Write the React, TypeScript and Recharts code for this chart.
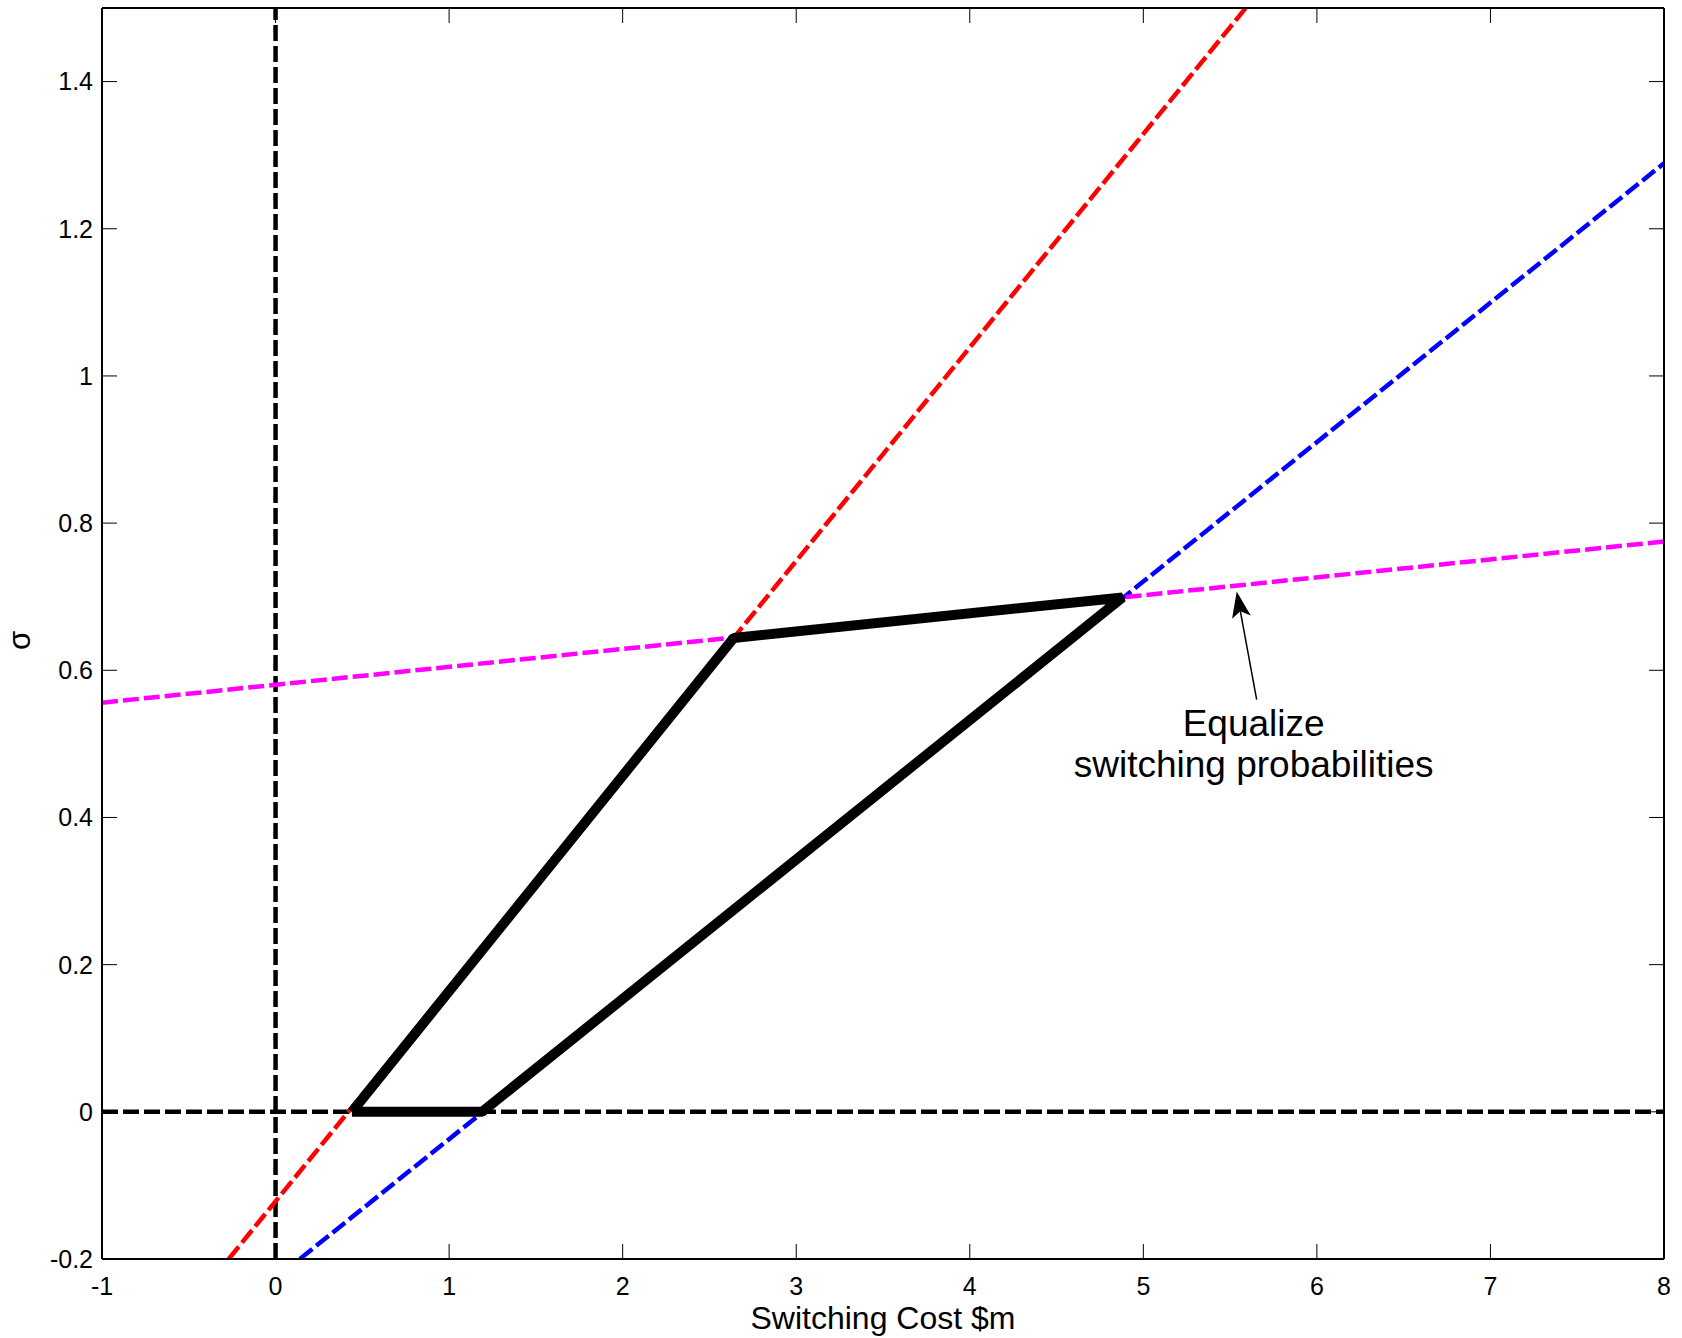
import React from 'react';
import {
  ComposedChart,
  Line,
  XAxis,
  YAxis,
  ReferenceLine,
  Label,
} from 'recharts';

const FONT = '"Liberation Sans", Arial, Helvetica, sans-serif';

// axis ticks
const xTicks = [-1, 0, 1, 2, 3, 4, 5, 6, 7, 8];
const yTicks = [-0.2, 0, 0.2, 0.4, 0.6, 0.8, 1, 1.2, 1.4];

// dashed reference axes through the origin
const zeroVertical = [
  { x: 0, y: -0.2 },
  { x: 0, y: 1.5 },
];
const zeroHorizontal = [
  { x: -1, y: 0 },
  { x: 8, y: 0 },
];

// boundary lines
const redLine = [
  { x: -0.27, y: -0.2 },
  { x: 5.59, y: 1.5 },
];
const blueLine = [
  { x: 0.14, y: -0.2 },
  { x: 8, y: 1.289 },
];
const magentaLine = [
  { x: -1, y: 0.556 },
  { x: 8, y: 0.775 },
];

// feasible region outline
const region = [
  { x: 0.44, y: 0 },
  { x: 2.64, y: 0.644 },
  { x: 4.88, y: 0.699 },
  { x: 1.19, y: 0 },
  { x: 0.44, y: 0 },
];

// annotation arrow: tail then tip
const arrowTail = { x: 5.653, y: 0.56 };
const arrowTip = { x: 5.538, y: 0.707 };
const noteLines = ['Equalize', 'switching probabilities'];

const ArrowNote = (props: any) => {
  const { x1, y1, x2, y2 } = props;
  const ang = Math.atan2(y2 - y1, x2 - x1);
  const ux = Math.cos(ang);
  const uy = Math.sin(ang);
  const nx = -uy;
  const ny = ux;
  const L = 26;
  const W = 9.5;
  const notch = 6;
  const bx = x2 - L * ux;
  const by = y2 - L * uy;
  const kx = x2 - (L - notch) * ux;
  const ky = y2 - (L - notch) * uy;
  const head = `${x2},${y2} ${bx + W * nx},${by + W * ny} ${kx},${ky} ${bx - W * nx},${by - W * ny}`;
  return (
    <g>
      <line x1={x1} y1={y1} x2={kx} y2={ky} stroke="#000" strokeWidth={1.5} />
      <polygon points={head} fill="#000" />
      {noteLines.map((t, i) => (
        <text
          key={t}
          x={x1 - 3}
          y={y1 + 36 + i * 41}
          textAnchor="middle"
          fontSize={37}
          fontFamily={FONT}
          fill="#000"
        >
          {t}
        </text>
      ))}
    </g>
  );
};

const dashed = '16 5';
const axisStroke = { stroke: '#000', strokeWidth: 2 };
const tickStroke = { stroke: '#000', strokeWidth: 1 };
const tickFont = { fontSize: 25, fill: '#000', fontFamily: FONT };

export default function App() {
  return (
    <div style={{ position: 'absolute', left: 0, top: 0, width: 1682, height: 1338, background: '#fff' }}>
      <ComposedChart width={1682} height={1338} margin={{ top: 7, right: 17, bottom: 0, left: 0 }}>
        <XAxis
          dataKey="x"
          type="number"
          domain={[-1, 8]}
          ticks={xTicks}
          interval={0}
          allowDataOverflow
          height={79}
          tickSize={-15}
          tickMargin={33}
          axisLine={axisStroke}
          tickLine={tickStroke}
          tick={tickFont}
        >
          <Label
            value="Switching Cost $m"
            position="insideBottom"
            offset={9}
            style={{ fontSize: 32, fill: '#000', fontFamily: FONT }}
          />
        </XAxis>
        <XAxis
          xAxisId="top"
          orientation="top"
          dataKey="x"
          type="number"
          domain={[-1, 8]}
          ticks={xTicks}
          interval={0}
          allowDataOverflow
          height={1}
          tickSize={-15}
          tickFormatter={() => ''}
          axisLine={axisStroke}
          tickLine={tickStroke}
        />
        <YAxis
          dataKey="y"
          type="number"
          domain={[-0.2, 1.5]}
          ticks={yTicks}
          interval={0}
          allowDataOverflow
          width={102}
          tickSize={-15}
          tickMargin={24}
          axisLine={axisStroke}
          tickLine={tickStroke}
          tick={tickFont}
        >
          <Label
            content={({ viewBox }: any) => {
              const cx = viewBox.x + 30;
              const cy = viewBox.y + viewBox.height / 2 + 7;
              return (
                <text
                  x={cx}
                  y={cy}
                  transform={`rotate(-90, ${cx}, ${cy})`}
                  textAnchor="middle"
                  fontSize={31}
                  fontFamily={FONT}
                  fill="#000"
                >
                  σ
                </text>
              );
            }}
          />
        </YAxis>
        <YAxis
          yAxisId="right"
          orientation="right"
          dataKey="y"
          type="number"
          domain={[-0.2, 1.5]}
          ticks={yTicks}
          interval={0}
          allowDataOverflow
          width={1}
          tickSize={-15}
          tickFormatter={() => ''}
          axisLine={axisStroke}
          tickLine={tickStroke}
        />

        {/* the vertical zero line is bound to the top/right axes (same domains) so those frame axes render */}
        <Line data={zeroVertical} xAxisId="top" yAxisId="right" dataKey="y" type="linear" stroke="#000" strokeWidth={4.5} strokeDasharray={dashed} dot={false} activeDot={false} isAnimationActive={false} />
        <Line data={zeroHorizontal} dataKey="y" type="linear" stroke="#000" strokeWidth={4.5} strokeDasharray={dashed} dot={false} activeDot={false} isAnimationActive={false} />
        <Line data={redLine} dataKey="y" type="linear" stroke="#ff0000" strokeWidth={4.5} strokeDasharray={dashed} dot={false} activeDot={false} isAnimationActive={false} />
        <Line data={blueLine} dataKey="y" type="linear" stroke="#0000ff" strokeWidth={4.5} strokeDasharray={dashed} dot={false} activeDot={false} isAnimationActive={false} />
        <Line data={magentaLine} dataKey="y" type="linear" stroke="#ff00ff" strokeWidth={4.5} strokeDasharray={dashed} dot={false} activeDot={false} isAnimationActive={false} />
        <Line data={region} dataKey="y" type="linear" stroke="#000" strokeWidth={10} strokeLinejoin="bevel" dot={false} activeDot={false} isAnimationActive={false} />

        <ReferenceLine segment={[arrowTail, arrowTip]} shape={ArrowNote} />
      </ComposedChart>
    </div>
  );
}
